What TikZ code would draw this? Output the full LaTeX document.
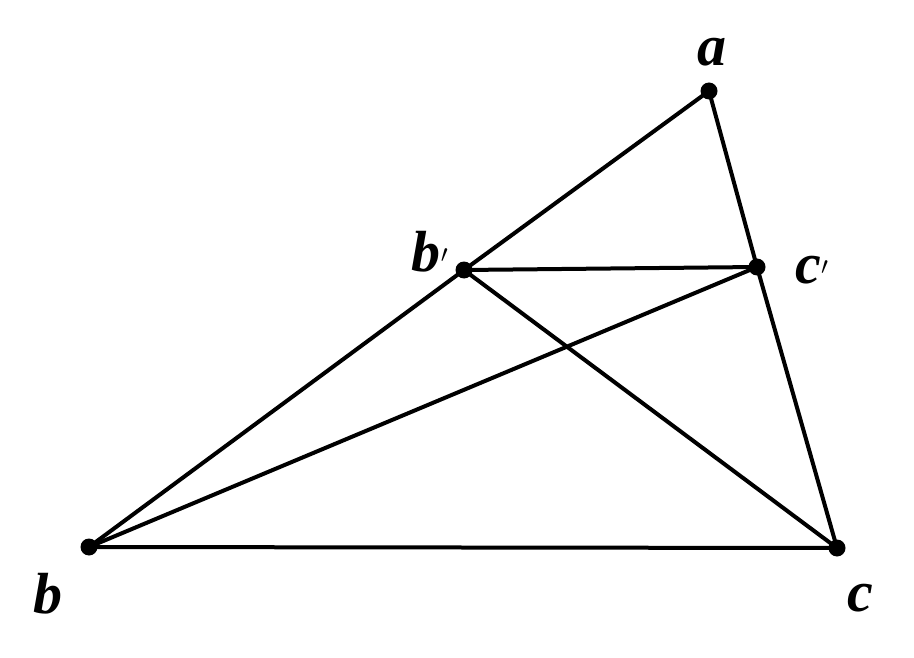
\documentclass[tikz,border=0pt]{standalone}
\usepackage{fontspec}
\setmainfont{Liberation Serif}
\begin{document}
\begin{tikzpicture}[x=1pt,y=-1pt,
  edge/.style={line width=4pt,line cap=round},
  dot/.style={circle,fill=black,inner sep=0pt,minimum size=17pt},
  lbl/.style={font=\fontsize{58}{60}\selectfont\bfseries\itshape,inner sep=0pt}]
\useasboundingbox (0,0) rectangle (914,658);
\node[dot] (a) at (709,91) {};
\node[dot] (bp) at (464,270) {};
\node[dot] (cp) at (757,267) {};
\node[dot] (b) at (89,547) {};
\node[dot] (c) at (837,548) {};
\draw[edge] (a.center) -- (bp.center) -- (b.center) -- (c.center) -- (cp.center) -- (a.center);
\draw[edge] (bp.center) -- (cp.center);
\draw[edge] (bp.center) -- (c.center);
\draw[edge] (b.center) -- (cp.center);
\node[lbl] (la) at (712,52) {a};
\node[lbl] (lbp) at (430,252) {b$'$};
\node[lbl] (lcp) at (812,270) {c$'$};
\node[lbl] (lb) at (48,594) {b};
\node[lbl] (lc) at (860,598) {c};
\end{tikzpicture}
\end{document}
